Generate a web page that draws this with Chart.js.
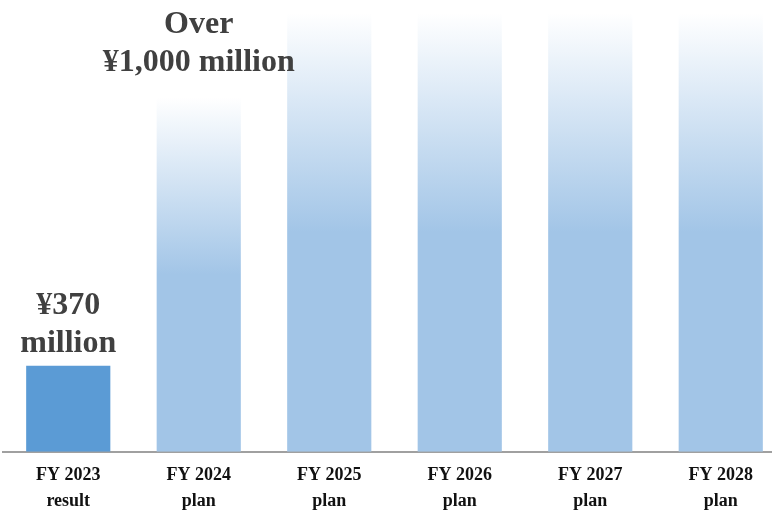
<!DOCTYPE html>
<html>
<head>
<meta charset="utf-8">
<script src="https://cdn.jsdelivr.net/npm/chart.js@4/dist/chart.umd.min.js"></script>
<style>
html,body{margin:0;padding:0;background:#fff;overflow:hidden;}
#wrap{width:786px;height:510px;}
</style>
</head>
<body>
<div id="wrap"><canvas id="c" width="786" height="510"></canvas></div>
<script>
const categories = [["FY 2023","result"],["FY 2024","plan"],["FY 2025","plan"],["FY 2026","plan"],["FY 2027","plan"],["FY 2028","plan"]];
const values = [370, 1525, 1887, 1887, 1887, 1887];
const barLabels = [["¥370","million"],["Over","¥1,000 million"],null,null,null,null];
const labelGaps = [14, 26, 0, 0, 0, 0];

const solidColor = '#5b9bd5';
const planColor = [162,197,231];

const labelPlugin = {
  id: 'barLabels',
  afterDatasetsDraw(chart) {
    const ctx = chart.ctx;
    const meta = chart.getDatasetMeta(0);
    ctx.save();
    ctx.font = 'bold 32px "Liberation Serif", "Times New Roman", serif';
    ctx.fillStyle = '#404040';
    ctx.textAlign = 'center';
    ctx.textBaseline = 'alphabetic';
    meta.data.forEach((el, i) => {
      const lines = barLabels[i];
      if (!lines) return;
      const lh = 38;
      let y = el.y - labelGaps[i];
      for (let k = lines.length - 1; k >= 0; k--) {
        ctx.fillText(lines[k], el.x, y);
        y -= lh;
      }
    });
    ctx.restore();
  }
};

new Chart(document.getElementById('c'), {
  type: 'bar',
  data: {
    labels: categories,
    datasets: [{
      data: values,
      borderWidth: 0,
      backgroundColor: (c) => {
        if (c.dataIndex === 0) return solidColor;
        const chart = c.chart;
        const full = `rgb(${planColor.join(',')})`;
        if (!chart.chartArea) return full;
        const ys = chart.scales.y;
        const yTop = ys.getPixelForValue(c.raw);
        const yBase = ys.getPixelForValue(0);
        const g = chart.ctx.createLinearGradient(0, yTop, 0, yTop + (yBase - yTop) * 0.5);
        g.addColorStop(0, 'rgba(255,255,255,1)');
        g.addColorStop(1, full);
        return g;
      },
      barPercentage: 0.645,
      categoryPercentage: 1
    }]
  },
  options: {
    responsive: false,
    animation: false,
    layout: { padding: { left: 3, right: 0, top: 10, bottom: -14 } },
    plugins: { legend: { display: false }, tooltip: { enabled: false } },
    scales: {
      x: {
        offset: true,
        grid: { display: false, drawTicks: false },
        border: { display: true, color: '#a0a0a0', width: 2 },
        ticks: {
          color: '#111',
          padding: 10,
          maxRotation: 0,
          autoSkip: false,
          font: { family: '"Liberation Serif", "Times New Roman", serif', weight: 'bold', size: 18, lineHeight: 1.45 }
        }
      },
      y: {
        display: false,
        min: 0,
        max: 1900
      }
    }
  },
  plugins: [labelPlugin]
});
</script>
</body>
</html>
